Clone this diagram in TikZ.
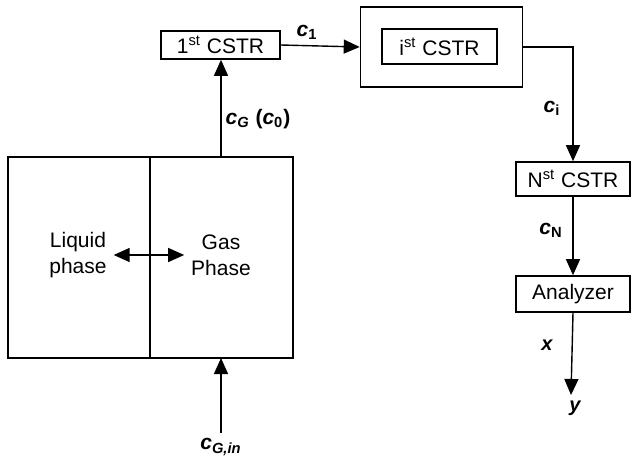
\documentclass[tikz,border=0pt]{standalone}
\usepackage{fontspec}
\setmainfont{Liberation Sans}
\usetikzlibrary{arrows.meta, positioning, calc}

\tikzset{
    unit/.style={draw, line width=0.8pt, minimum width=57pt, minimum height=17pt, inner sep=0pt},
    flow/.style={line width=0.7pt, -{Triangle[length=8pt, width=7pt]}},
    var/.style={font=\bfseries\itshape}
}
\newcommand{\cvar}[1]{\textit{\textbf{c}}\textsubscript{\textbf{#1}}}

\begin{document}
\begin{tikzpicture}[x=0.5pt, y=-0.5pt, font=\fontsize{10.5}{13}\selectfont]
    \useasboundingbox (0,0) rectangle (632,461);

    % Absorber: liquid and gas phase
    \draw[line width=0.8pt] (8,157) rectangle (293,358);
    \draw[line width=0.6pt] (150,157) -- (150,358);
    \node[align=center] (liq) at (78,255) {Liquid\\phase};
    \node[align=center] (gas) at (221,255) {Gas\\Phase};
    \draw[line width=0.7pt, {Triangle[length=8pt, width=7pt]}-{Triangle[length=8pt, width=7pt]}] (liq.east) -- (gas.west);
    \coordinate (boxtop) at (221,157);
    \coordinate (boxbot) at (221,358);
    \coordinate (feed) at (221,433);

    % Tank cascade
    \node[unit, minimum width=59.5pt, minimum height=14pt] (cstr1) at (220.5,45) {1\textsuperscript{st} CSTR};
    \node[draw, line width=0.8pt, minimum width=81pt, minimum height=40pt, inner sep=0pt] (outer) at (441.5,47) {};
    \node[unit, minimum width=57.5pt, minimum height=17.5pt] (cstri) at (439.5,46.5) {i\textsuperscript{st} CSTR};
    \node[unit] (cstrN) at (573,179) {N\textsuperscript{st} CSTR};
    \node[unit, minimum height=18pt] (anal) at (573,294) {Analyzer};
    \coordinate (out) at (571,395);

    % Streams
    \draw[flow] (feed) -- (boxbot);
    \draw[flow] (boxtop) -- (boxtop |- cstr1.south);
    \draw[flow] (cstr1.east) -- (outer.west);
    \draw[flow] (outer.east) -| (cstrN.north);
    \draw[flow] (cstrN.south) -- (anal.north);
    \draw[flow] (anal.south) -- (out);

    % Labels
    \node (lcgin) at (221,447) {\cvar{\textit{G,in}}};
    \node (lcg) at (258,119) {\cvar{\textit{G}} \textbf{(}\cvar{0}\textbf{)}};
    \node (lc1) at (307,32) {\cvar{1}};
    \node (lci) at (552,108) {\cvar{i}};
    \node (lcN) at (551,230) {\cvar{N}};
    \node[var] (lx) at (547,345) {x};
    \node[var] (ly) at (575,408) {y};
\end{tikzpicture}
\end{document}
